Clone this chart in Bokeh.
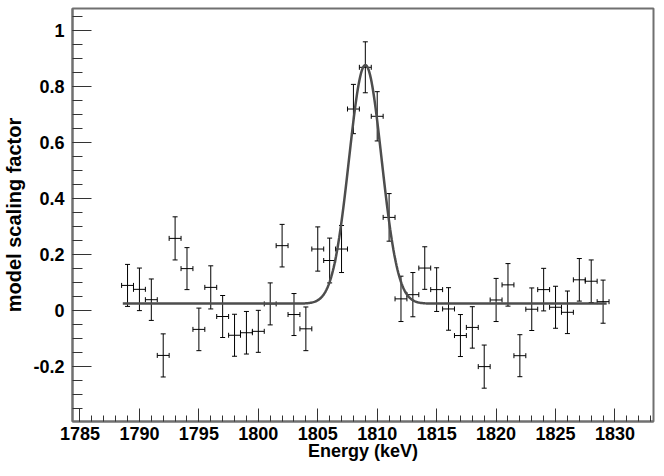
from bokeh.plotting import figure
from bokeh.models import (Range1d, FixedTicker, CustomJSTickFormatter, Whisker,
                          TeeHead, ColumnDataSource)
from bokeh.embed import file_html
from bokeh.resources import INLINE
import numpy as np

# ---- data ----
energy = [1789, 1790, 1791, 1792, 1793, 1794, 1795, 1796, 1797, 1798, 1799, 1800,
          1801, 1802, 1803, 1804, 1805, 1806, 1807, 1808, 1809, 1810, 1811, 1812,
          1813, 1814, 1815, 1816, 1817, 1818, 1819, 1820, 1821, 1822, 1823, 1824,
          1825, 1826, 1827, 1828, 1829]
scaling = [0.090, 0.076, 0.039, -0.160, 0.258, 0.150, -0.067, 0.083, -0.021, -0.088,
           -0.079, -0.074, 0.024, 0.232, -0.014, -0.065, 0.220, 0.179, 0.220, 0.720,
           0.869, 0.694, 0.333, 0.042, 0.057, 0.152, 0.075, 0.006, -0.089, -0.060,
           -0.200, 0.038, 0.092, -0.161, 0.005, 0.075, 0.012, -0.006, 0.110, 0.105,
           0.032]
errors = [0.075, 0.076, 0.074, 0.077, 0.077, 0.075, 0.076, 0.077, 0.075, 0.075,
          0.076, 0.075, 0.075, 0.076, 0.075, 0.078, 0.079, 0.080, 0.084, 0.088,
          0.091, 0.088, 0.085, 0.081, 0.079, 0.076, 0.078, 0.076, 0.075, 0.074,
          0.077, 0.077, 0.076, 0.075, 0.076, 0.076, 0.075, 0.076, 0.076, 0.076,
          0.077]
bin_half_width = 0.5

# Gaussian-plus-constant fit (parameters)
fit_baseline = 0.025
fit_amplitude = 0.852
fit_mean = 1809.0
fit_sigma = 1.37
fit_start = 1788.6
fit_end = 1829.3

x_ticks = [1785, 1790, 1795, 1800, 1805, 1810, 1815, 1820, 1825, 1830]
y_ticks = [-0.2, 0.0, 0.2, 0.4, 0.6, 0.8, 1.0]

x_range = (1784.37, 1833.24)
y_range = (-0.396, 1.079)

# ---- figure ----
p = figure(width=664, height=476, output_backend="svg", toolbar_location=None,
           x_range=Range1d(*x_range), y_range=Range1d(*y_range),
           min_border_left=70, min_border_right=11, min_border_top=8,
           min_border_bottom=55)
p.xgrid.visible = False
p.ygrid.visible = False
p.background_fill_color = "white"
p.border_fill_color = "white"
p.outline_line_color = "#707070"
p.outline_line_width = 2

FONT = "Liberation Sans"

xminor = [v for v in range(1784, 1834)]
p.xaxis.ticker = FixedTicker(ticks=x_ticks, minor_ticks=xminor)
yminor = [round(-0.35 + 0.05 * i, 2) for i in range(29)]
p.yaxis.ticker = FixedTicker(ticks=y_ticks, minor_ticks=yminor)
p.yaxis.formatter = CustomJSTickFormatter(
    code="var s = tick.toFixed(1); if (s === '-0.0') s = '0.0'; return s.replace(/\\.0$/, '');")

for ax in (p.xaxis[0], p.yaxis[0]):
    ax.axis_line_color = "#707070"
    ax.axis_line_width = 2
    ax.major_tick_line_color = "#333333"
    ax.minor_tick_line_color = "#333333"
    ax.major_tick_out = 0
    ax.minor_tick_out = 0
    ax.major_label_text_font = FONT
    ax.major_label_text_font_style = "bold"
    ax.major_label_text_font_size = "18px"
    ax.major_label_text_color = "black"
    ax.axis_label_text_font = FONT
    ax.axis_label_text_font_style = "bold"
    ax.axis_label_text_color = "black"

p.xaxis.major_tick_in = 13
p.xaxis.minor_tick_in = 6
p.yaxis.major_tick_in = 19
p.yaxis.minor_tick_in = 10
p.xaxis.major_label_standoff = 5
p.yaxis.major_label_standoff = 8

p.xaxis.axis_label = "Energy (keV)"
p.xaxis.axis_label_text_font_size = "18px"
p.xaxis.axis_label_standoff = -2
p.yaxis.axis_label = "model scaling factor"
p.yaxis.axis_label_text_font_size = "20px"
p.yaxis.axis_label_standoff = 5

# ---- fit curve ----
fx = np.linspace(fit_start, fit_end, 600)
fy = fit_baseline + fit_amplitude * np.exp(-0.5 * ((fx - fit_mean) / fit_sigma) ** 2)
p.line(fx, fy, line_color="#4d4d4d", line_width=2.5)

# ---- data points with error bars ----
e = np.array(energy, dtype=float)
s = np.array(scaling)
err = np.array(errors)
src = ColumnDataSource(dict(
    x=e, y=s, ylo=s - err, yhi=s + err,
    xlo=e - bin_half_width, xhi=e + bin_half_width))

vbar = Whisker(source=src, base="x", lower="ylo", upper="yhi", dimension="height",
               line_color="black", line_width=1,
               lower_head=TeeHead(size=5, line_color="black", line_width=1),
               upper_head=TeeHead(size=5, line_color="black", line_width=1))
hbar = Whisker(source=src, base="y", lower="xlo", upper="xhi", dimension="width",
               line_color="black", line_width=1,
               lower_head=TeeHead(size=5, line_color="black", line_width=1),
               upper_head=TeeHead(size=5, line_color="black", line_width=1))
p.add_layout(vbar)
p.add_layout(hbar)

open("out.html", "w").write(file_html(p, INLINE))
